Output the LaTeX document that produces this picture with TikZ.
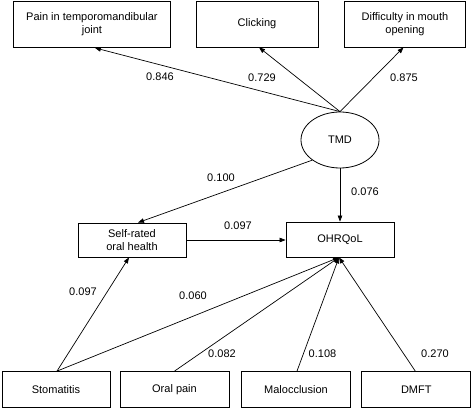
\documentclass[tikz,border=0pt]{standalone}
\usepackage{fontspec}
\setmainfont{Liberation Sans}
\usetikzlibrary{arrows.meta,shapes.geometric}
\begin{document}
\begin{tikzpicture}[x=1pt,y=-1pt,
  box/.style={draw,line width=0.8pt,rectangle,inner sep=0pt,align=center,font=\fontsize{11}{13}\selectfont},
  lab/.style={inner sep=0pt,font=\fontsize{11}{13}\selectfont},
  conn/.style={line width=0.7pt,-{Triangle[length=6pt,width=4.5pt]}}]
\useasboundingbox (0,0) rectangle (472,409);
% top indicators
\node[box,minimum width=157pt,minimum height=46.5pt] (pain) at (91.9,24.25) {Pain in temporomandibular\\joint};
\node[box,minimum width=122pt,minimum height=46pt] (click) at (257,24) {Clicking};
\node[box,minimum width=121pt,minimum height=46pt] (diff) at (405,24) {Difficulty in mouth\\opening};
% latent
\node[ellipse,draw,line width=0.8pt,minimum width=78pt,minimum height=56pt,inner sep=0pt,font=\fontsize{11}{13}\selectfont] (tmd) at (340,140) {TMD};
% middle
\node[box,minimum width=108pt,minimum height=34pt] (self) at (132,240) {Self-rated\\oral health};
\node[box,minimum width=108pt,minimum height=35pt] (ohr) at (340,239.5) {OHRQoL};
% bottom
\node[box,minimum width=108pt,minimum height=36pt] (stom) at (56,389.5) {Stomatitis};
\node[box,minimum width=109pt,minimum height=36pt] (oral) at (174.5,389.5) {Oral pain};
\node[box,minimum width=108.5pt,minimum height=36pt] (maloc) at (296,389.5) {Malocclusion};
\node[box,minimum width=109pt,minimum height=36pt] (dmft) at (416.3,389.5) {DMFT};
% connectors
\draw[conn] (tmd.north) -- ([xshift=3pt]pain.south);
\draw[conn] (tmd.north) -- ([xshift=2pt]click.south);
\draw[conn] (tmd.north) -- ([xshift=-1.5pt]diff.south);
\draw[conn] (tmd.216) -- ([xshift=6pt]self.north);
\draw[conn] (tmd.south) -- (ohr.north);
\draw[conn] (self.east) -- (self.east -| ohr.west);
\draw[conn] ([xshift=1pt]stom.north) -- ([xshift=-3pt]self.south);
\draw[conn] ([xshift=1pt]stom.north) -- ([xshift=-1pt]ohr.south);
\draw[conn] (oral.north) -- ([xshift=-1pt]ohr.south);
\draw[conn] ([xshift=1pt]maloc.north) -- ([xshift=-1pt]ohr.south);
\draw[conn] ([xshift=-1pt]dmft.north) -- ([xshift=-1pt]ohr.south);
% labels
\node[lab] (l1) at (160,77) {0.846};
\node[lab] (l2) at (262,78) {0.729};
\node[lab] (l3) at (404,78) {0.875};
\node[lab] (l4) at (221,178) {0.100};
\node[lab] (l5) at (365,192) {0.076};
\node[lab] (l6) at (238,226) {0.097};
\node[lab] (l7) at (83,291.5) {0.097};
\node[lab] (l8) at (193,296) {0.060};
\node[lab] (l9) at (222,354) {0.082};
\node[lab] (l10) at (322.5,353.5) {0.108};
\node[lab] (l11) at (435,353.5) {0.270};
\end{tikzpicture}
\end{document}
